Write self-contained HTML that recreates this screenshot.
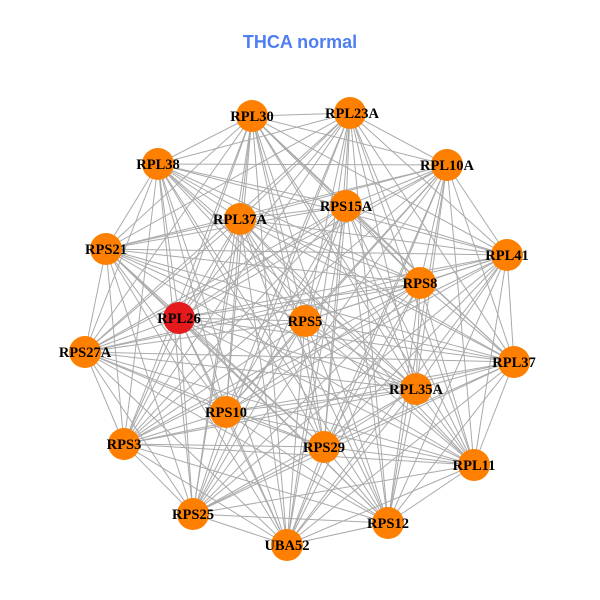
<!DOCTYPE html>
<html><head><meta charset="utf-8"><style>
html,body{margin:0;padding:0;background:#fff;width:600px;height:600px;overflow:hidden}
</style></head><body>
<svg id="g" width="600" height="600" xmlns="http://www.w3.org/2000/svg">
<rect width="600" height="600" fill="#fff"/>
<text x="300" y="48" text-anchor="middle" font-family="Liberation Sans, sans-serif" font-weight="bold" font-size="18" fill="#4f7ef2">THCA normal</text>
<g id="edges" stroke="#aaaaaa" stroke-width="1"></g>
<g id="nodes"></g>
<g font-family="Liberation Serif, serif" font-weight="bold" font-size="14.5" text-anchor="middle" fill="#000">
<text x="252" y="121">RPL30</text>
<text x="352" y="118">RPL23A</text>
<text x="158" y="169">RPL38</text>
<text x="447" y="170">RPL10A</text>
<text x="346" y="211">RPS15A</text>
<text x="240" y="224">RPL37A</text>
<text x="106" y="254">RPS21</text>
<text x="507" y="260">RPL41</text>
<text x="420" y="288">RPS8</text>
<text x="179" y="323">RPL26</text>
<text x="305" y="326">RPS5</text>
<text x="85" y="357">RPS27A</text>
<text x="514" y="367">RPL37</text>
<text x="416" y="394">RPL35A</text>
<text x="226" y="417">RPS10</text>
<text x="124" y="449">RPS3</text>
<text x="324" y="452">RPS29</text>
<text x="474" y="470">RPL11</text>
<text x="193" y="519">RPS25</text>
<text x="388" y="528">RPS12</text>
<text x="287" y="550">UBA52</text>
</g>
</svg>
<script>
var N=[[252,116],[350,113],[158,164],[447,165],[346,206],[240,219],[106,249],[507,255],[420,283],[179,318],[305,321],[85,352],[514,362],[416,389],[226,412],[124,444],[324,447],[474,465],[193,514],[388,523],[287,545]];
var ns="http://www.w3.org/2000/svg",e=document.getElementById("edges"),n=document.getElementById("nodes");
for(var i=0;i<N.length;i++)for(var j=i+1;j<N.length;j++){var l=document.createElementNS(ns,"line");l.setAttribute("x1",N[i][0]);l.setAttribute("y1",N[i][1]);l.setAttribute("x2",N[j][0]);l.setAttribute("y2",N[j][1]);e.appendChild(l);}
for(var i=0;i<N.length;i++){var c=document.createElementNS(ns,"circle");c.setAttribute("cx",N[i][0]);c.setAttribute("cy",N[i][1]);c.setAttribute("r",16);c.setAttribute("fill",i==9?"#e41a1c":"#ff7f00");n.appendChild(c);}
</script>
</body></html>
